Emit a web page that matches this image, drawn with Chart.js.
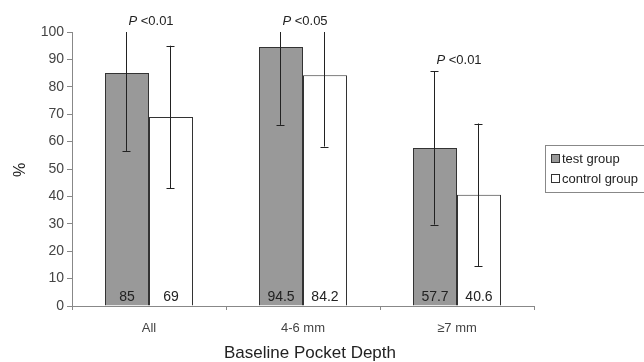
<!DOCTYPE html>
<html>
<head>
<meta charset="utf-8">
<script src="https://cdn.jsdelivr.net/npm/chart.js@4/dist/chart.umd.min.js"></script>
<style>
html,body{margin:0;padding:0;background:#fff;}
#wrap{width:644px;height:362px;position:relative;}
</style>
</head>
<body>
<div id="wrap"><canvas id="c" width="644" height="362"></canvas></div>
<script>
const categories = ["All", "4-6 mm", "\u22657 mm"];
const testValues = [85, 94.5, 57.7];
const controlValues = [69, 84.2, 40.6];
const testErr = [28.4, 28.4, 28];
const controlErr = [26, 26, 26];
const pLabels = ["<0.01", "<0.05", "<0.01"];
const seriesNames = ["test group", "control group"];
const yTicks = [0, 10, 20, 30, 40, 50, 60, 70, 80, 90, 100];
const xTitle = "Baseline Pocket Depth";
const yTitle = "%";

const FONT = "'Liberation Sans', Arial, sans-serif";
const errors = [testErr, controlErr];

const overlay = {
  id: 'overlay',
  afterDatasetsDraw(chart) {
    const ctx = chart.ctx;
    const y = chart.scales.y;
    const yMax = y.max;
    ctx.save();
    ctx.strokeStyle = '#222';
    ctx.lineWidth = 1;
    chart.data.datasets.forEach((ds, di) => {
      const meta = chart.getDatasetMeta(di);
      meta.data.forEach((bar, i) => {
        const v = ds.data[i], e = errors[di][i];
        const hi = v + e, lo = v - e;
        const x = Math.round(bar.x) - 0.5;
        const yHi = y.getPixelForValue(Math.min(hi, yMax));
        const yLo = y.getPixelForValue(Math.max(lo, 0));
        ctx.beginPath();
        ctx.moveTo(x, yHi); ctx.lineTo(x, yLo);
        if (hi <= yMax) { ctx.moveTo(x - 4, Math.round(yHi) + 0.5); ctx.lineTo(x + 4, Math.round(yHi) + 0.5); }
        ctx.moveTo(x - 4, Math.round(yLo) + 0.5); ctx.lineTo(x + 4, Math.round(yLo) + 0.5);
        ctx.stroke();
        ctx.fillStyle = '#222';
        ctx.font = '14px ' + FONT;
        ctx.textAlign = 'center';
        ctx.textBaseline = 'middle';
        ctx.fillText(String(v), bar.x, y.getPixelForValue(0) - 9);
      });
    });
    const xs = chart.scales.x;
    categories.forEach((c, i) => {
      const cx = xs.getPixelForValue(i) + 2;
      const cy = Math.min(...chart.data.datasets.map((ds, di) =>
        y.getPixelForValue(Math.min(ds.data[i] + errors[di][i], yMax)))) - 11;
      ctx.font = 'italic 13px ' + FONT;
      const wP = ctx.measureText('P ').width;
      ctx.font = '13px ' + FONT;
      const wR = ctx.measureText(pLabels[i]).width;
      const x0 = cx - (wP + wR) / 2;
      ctx.fillStyle = '#222';
      ctx.textAlign = 'left';
      ctx.textBaseline = 'middle';
      ctx.font = 'italic 13px ' + FONT;
      ctx.fillText('P ', x0, cy);
      ctx.font = '13px ' + FONT;
      ctx.fillText(pLabels[i], x0 + wP, cy);
    });
    ctx.restore();
  },
  afterDraw(chart) {
    const ctx = chart.ctx;
    ctx.save();
    const lx = 545.5, ly = 145.5, lw = 100, lh = 47;
    ctx.strokeStyle = '#888';
    ctx.lineWidth = 1;
    ctx.strokeRect(lx, ly, lw, lh);
    chart.data.datasets.forEach((ds, i) => {
      const yy = 158 + i * 20;
      ctx.fillStyle = ds.backgroundColor;
      ctx.fillRect(551.5, yy - 3.5, 8, 8);
      ctx.strokeStyle = '#333';
      ctx.strokeRect(551.5, yy - 3.5, 8, 8);
      ctx.fillStyle = '#222';
      ctx.font = '13px ' + FONT;
      ctx.textAlign = 'left';
      ctx.textBaseline = 'middle';
      ctx.fillText(ds.label, 562, yy + 1);
    });
    ctx.fillStyle = '#222';
    ctx.font = '17px ' + FONT;
    ctx.textAlign = 'center';
    ctx.textBaseline = 'middle';
    ctx.fillText(xTitle, 310, 353);
    ctx.translate(21, 170);
    ctx.rotate(-Math.PI / 2);
    ctx.font = '16px ' + FONT;
    ctx.fillText(yTitle, 0, 0);
    ctx.restore();
  }
};

new Chart(document.getElementById('c'), {
  type: 'bar',
  data: {
    labels: categories,
    datasets: [
      { label: seriesNames[0], data: testValues, backgroundColor: '#999999', borderColor: '#333333', borderWidth: 1,
        categoryPercentage: 0.5714, barPercentage: 1 },
      { label: seriesNames[1], data: controlValues, backgroundColor: '#ffffff', borderColor: '#333333', borderWidth: 1,
        categoryPercentage: 0.5714, barPercentage: 1 }
    ]
  },
  options: {
    responsive: false,
    animation: false,
    devicePixelRatio: 1,
    layout: { padding: { top: 32, right: 110, bottom: 0, left: 0 } },
    plugins: {
      legend: { display: false },
      tooltip: { enabled: false }
    },
    scales: {
      x: {
        grid: { display: true, drawOnChartArea: false, drawTicks: true, tickLength: 4, color: '#888', offset: true },
        border: { display: true, color: '#888', width: 1 },
        ticks: { color: '#444', font: { family: FONT, size: 13 }, padding: 11 },
        afterFit(s) { s.height = 56; }
      },
      y: {
        min: 0, max: 100,
        afterBuildTicks(s) { s.ticks = yTicks.map(v => ({ value: v })); },
        grid: { display: true, drawOnChartArea: false, drawTicks: true, tickLength: 5, color: '#888' },
        border: { display: true, color: '#888', width: 1 },
        ticks: { color: '#444', font: { family: FONT, size: 14 }, padding: 3 },
        afterFit(s) { s.width = 72; }
      }
    }
  },
  plugins: [overlay]
});
</script>
</body>
</html>
